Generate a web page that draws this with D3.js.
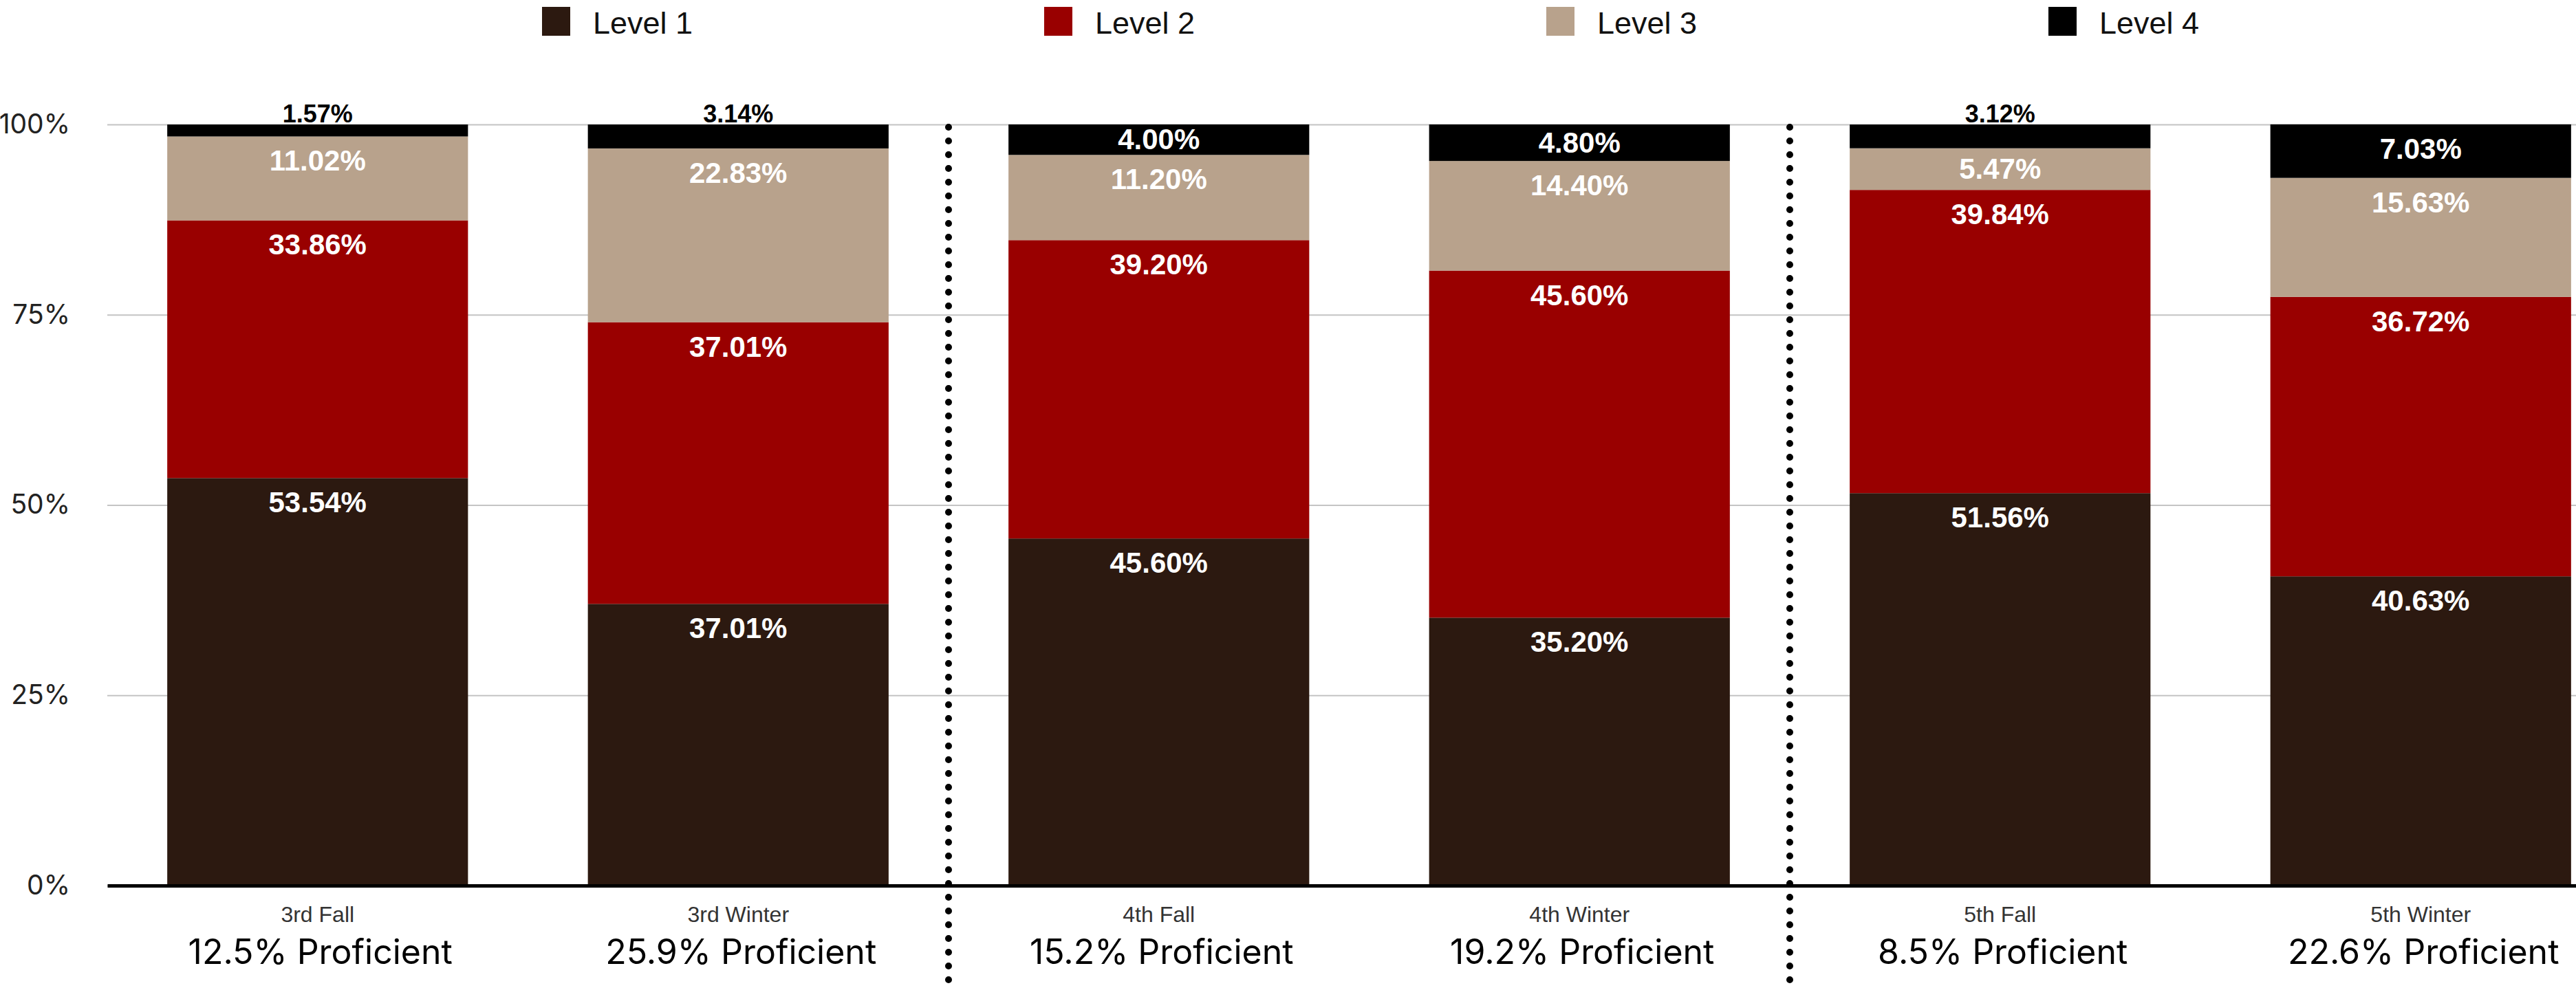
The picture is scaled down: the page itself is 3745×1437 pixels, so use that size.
<!DOCTYPE html>
<html>
<head>
<meta charset="utf-8">
<script src="https://cdn.jsdelivr.net/npm/d3@7"></script>
<style>
  body { margin: 0; background: #fff; }
  svg { display: block; }
</style>
</head>
<body>
<div id="chart"></div>
<script>
// chart values
var categories = ['3rd Fall', '3rd Winter', '4th Fall', '4th Winter', '5th Fall', '5th Winter']
var levelNames = ['Level 1', 'Level 2', 'Level 3', 'Level 4']
var level1 = [53.54, 37.01, 45.60, 35.20, 51.56, 40.63]
var level2 = [33.86, 37.01, 39.20, 45.60, 39.84, 36.72]
var level3 = [11.02, 22.83, 11.20, 14.40, 5.47, 15.63]
var level4 = [1.57, 3.14, 4.00, 4.80, 3.12, 7.03]
var proficient = [12.5, 25.9, 15.2, 19.2, 8.5, 22.6]
var yTicks = [0, 25, 50, 75, 100]
var groupStarts = ['4th Fall', '5th Fall']
var colors = ['#2c1910', '#990000', '#b8a28c', '#000000']

var width = 3745
var height = 1437

var svg = d3.select('#chart')
  .append('svg')
  .attr('width', width)
  .attr('height', height)

// build rows for the stack
var rows = categories.map(function(c, i) {
  return { cat: c, 'Level 1': level1[i], 'Level 2': level2[i], 'Level 3': level3[i], 'Level 4': level4[i] }
})
var series = d3.stack().keys(levelNames)(rows)

var xScale = d3.scaleBand()
  .domain(categories)
  .range([156, 3825])
  .paddingInner(0.285)
  .paddingOuter(0.1425)

var yScale = d3.scaleLinear()
  .domain([0, 100])
  .range([1288, 181])

var colorScale = d3.scaleOrdinal().domain(levelNames).range(colors)

// gridlines + y labels
var yAxis = d3.axisLeft(yScale)
  .tickValues(yTicks)
  .tickSize(-(width - 156))
  .tickPadding(54)
  .tickFormat(function(d) { return d + '%' })

var yG = svg.append('g')
  .attr('transform', 'translate(156,0)')
  .call(yAxis)
yG.select('.domain').remove()
yG.selectAll('.tick line').attr('stroke', '#c4c4c4').attr('stroke-width', 2)
yG.selectAll('.tick text')
  .attr('font-family', 'Inter, "Open Sans", sans-serif')
  .attr('font-size', 39)
  .attr('fill', '#222')

// bars
var layer = svg.selectAll('.layer')
  .data(series)
  .enter()
  .append('g')
  .attr('class', 'layer')
  .attr('fill', function(d) { return colorScale(d.key) })

layer.selectAll('rect')
  .data(function(d) { return d })
  .enter()
  .append('rect')
  .attr('x', function(d) { return xScale(d.data.cat) })
  .attr('width', xScale.bandwidth())
  .attr('y', function(d) { return yScale(d[1]) })
  .attr('height', function(d) { return yScale(d[0]) - yScale(d[1]) })

// value labels: small segments get a black label above the bar
layer.each(function(s) {
  d3.select(this).selectAll('text')
    .data(s)
    .enter()
    .append('text')
    .attr('x', function(d) { return xScale(d.data.cat) + xScale.bandwidth() / 2 })
    .attr('y', function(d) {
      var top = yScale(d[1])
      var h = yScale(d[0]) - top
      var v = d[1] - d[0]
      if (v < 3.5) return top - 3
      return top + Math.min(50, h / 2 + 14)
    })
    .attr('text-anchor', 'middle')
    .attr('font-family', '"Liberation Sans", Arial, sans-serif')
    .attr('font-weight', 'bold')
    .attr('font-size', function(d) { return (d[1] - d[0]) < 3.5 ? 36 : 42 })
    .attr('fill', function(d) { return (d[1] - d[0]) < 3.5 ? '#000' : '#fff' })
    .text(function(d) { return (d[1] - d[0]).toFixed(2) + '%' })
})

// x axis baseline + category labels
var xAxis = d3.axisBottom(xScale).tickSize(0).tickPadding(30)
var xG = svg.append('g')
  .attr('transform', 'translate(0,' + yScale(0) + ')')
  .call(xAxis)
xG.select('.domain').attr('stroke', '#000').attr('stroke-width', 5)
xG.selectAll('.tick text')
  .attr('font-family', '"Liberation Sans", Arial, sans-serif')
  .attr('font-size', 32)
  .attr('fill', '#333')

// proficient labels
svg.selectAll('.prof')
  .data(categories)
  .enter()
  .append('text')
  .attr('class', 'prof')
  .attr('x', function(d) { return xScale(d) + xScale.bandwidth() / 2 + 4 })
  .attr('y', 1402)
  .attr('text-anchor', 'middle')
  .attr('font-family', 'Inter, "Open Sans", sans-serif')
  .attr('font-size', 50)
  .attr('fill', '#000')
  .text(function(d, i) { return proficient[i] + '% Proficient' })

// dotted separators between grades
svg.selectAll('.sep')
  .data(groupStarts)
  .enter()
  .append('line')
  .attr('class', 'sep')
  .attr('x1', function(d) { return xScale(d) - xScale.step() * xScale.paddingInner() / 2 })
  .attr('x2', function(d) { return xScale(d) - xScale.step() * xScale.paddingInner() / 2 })
  .attr('y1', yScale(100) + 4)
  .attr('y2', height)
  .attr('stroke', '#000')
  .attr('stroke-width', 10)
  .attr('stroke-linecap', 'round')
  .attr('stroke-dasharray', '0 20')

// legend
var legend = svg.selectAll('.legend')
  .data(levelNames)
  .enter()
  .append('g')
  .attr('class', 'legend')
  .attr('transform', function(d, i) { return 'translate(' + (788 + i * 730) + ',0)' })

legend.append('rect')
  .attr('y', 10)
  .attr('width', 41)
  .attr('height', 42)
  .attr('fill', function(d) { return colorScale(d) })

legend.append('text')
  .attr('x', 74)
  .attr('y', 49)
  .attr('font-family', '"Liberation Sans", Arial, sans-serif')
  .attr('font-size', 45)
  .attr('fill', '#111')
  .text(function(d) { return d })
</script>
</body>
</html>
